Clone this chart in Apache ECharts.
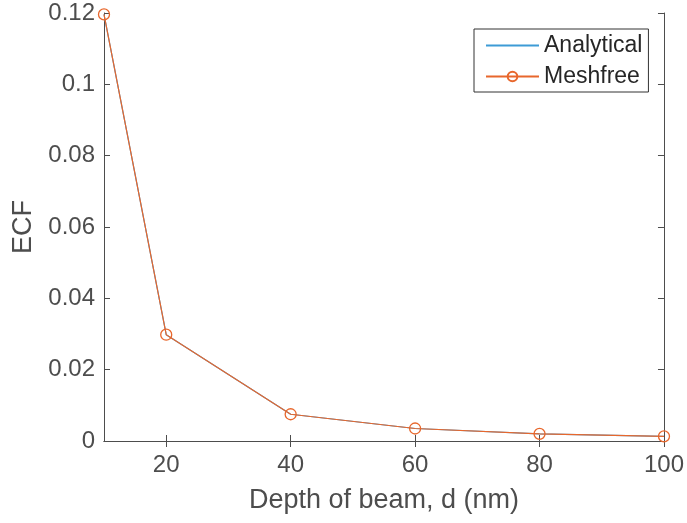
<!DOCTYPE html>
<html><head><meta charset="utf-8">
<script src="https://cdn.jsdelivr.net/npm/echarts@6/dist/echarts.min.js"></script>
<style>html,body{margin:0;padding:0;background:#fff}#c{width:687px;height:523px}</style>
</head><body><div id="c"></div>
<script>
const depth = [10, 20, 40, 60, 80, 100];
const analytical = [0.1196, 0.0298, 0.0075, 0.0035, 0.0020, 0.0013];
const meshfree = [0.1196, 0.0298, 0.0075, 0.0035, 0.0020, 0.0013];
const xTicks = [20, 40, 60, 80, 100];
const yTicks = [0, 0.02, 0.04, 0.06, 0.08, 0.1, 0.12];

const axisCol = '#4d4d4d';
const font = '"Liberation Sans", Arial, sans-serif';
const chart = echarts.init(document.getElementById('c'));
const tick = {show: true, inside: true, length: 6, lineStyle: {color: axisCol, width: 1}};
chart.setOption({
  animation: false,
  grid: {left: 104, top: 13, right: 22, bottom: 82, show: false},
  legend: {
    left: 474, top: 29, orient: 'vertical', itemWidth: 53, itemHeight: 12, itemGap: 8,
    padding: [5, 6, 4, 11], borderColor: '#333', borderWidth: 1, backgroundColor: '#fff',
    textStyle: {fontSize: 23, color: '#262626', fontFamily: font},
    data: [{name: 'Analytical', itemStyle: {opacity: 0}}, 'Meshfree']
  },
  xAxis: [{
    type: 'value', min: 10, max: 100,
    name: 'Depth of beam, d (nm)', nameLocation: 'middle', nameGap: 46,
    nameTextStyle: {fontSize: 27, color: axisCol, fontFamily: font},
    axisLine: {show: true, lineStyle: {color: axisCol, width: 1}},
    axisTick: Object.assign({customValues: xTicks}, tick),
    axisLabel: {customValues: xTicks, fontSize: 24, color: axisCol, fontFamily: font, margin: 12},
    splitLine: {show: false}
  }, {
    type: 'value', min: 10, max: 100, position: 'top',
    axisLine: {show: true, lineStyle: {color: axisCol, width: 1}},
    axisTick: Object.assign({customValues: xTicks}, tick),
    axisLabel: {show: false}, splitLine: {show: false}
  }],
  yAxis: [{
    type: 'value', min: 0, max: 0.12, interval: 0.02,
    name: 'ECF', nameLocation: 'middle', nameGap: 66,
    nameTextStyle: {fontSize: 27, color: axisCol, fontFamily: font},
    axisLine: {show: true, lineStyle: {color: axisCol, width: 1}},
    axisTick: tick,
    axisLabel: {fontSize: 24, color: axisCol, fontFamily: font, margin: 9,
      formatter: v => String(+v.toFixed(4))},
    splitLine: {show: false}
  }, {
    type: 'value', min: 0, max: 0.12, interval: 0.02, position: 'right',
    axisLine: {show: true, lineStyle: {color: axisCol, width: 1}},
    axisTick: tick, axisLabel: {show: false}, splitLine: {show: false}
  }],
  series: [{
    name: 'Analytical', type: 'line', symbol: 'none',
    data: depth.map((d, i) => [d, analytical[i]]),
    lineStyle: {color: '#3d9bd6', width: 1.2}, itemStyle: {color: '#3d9bd6'}
  }, {
    name: 'Meshfree', type: 'line', symbol: 'circle', symbolSize: 11,
    data: depth.map((d, i) => [d, meshfree[i]]),
    lineStyle: {color: '#e8672c', width: 1.2},
    itemStyle: {color: 'rgba(255,255,255,0)', borderColor: '#e8672c', borderWidth: 1.3}
  }]
});
</script></body></html>
